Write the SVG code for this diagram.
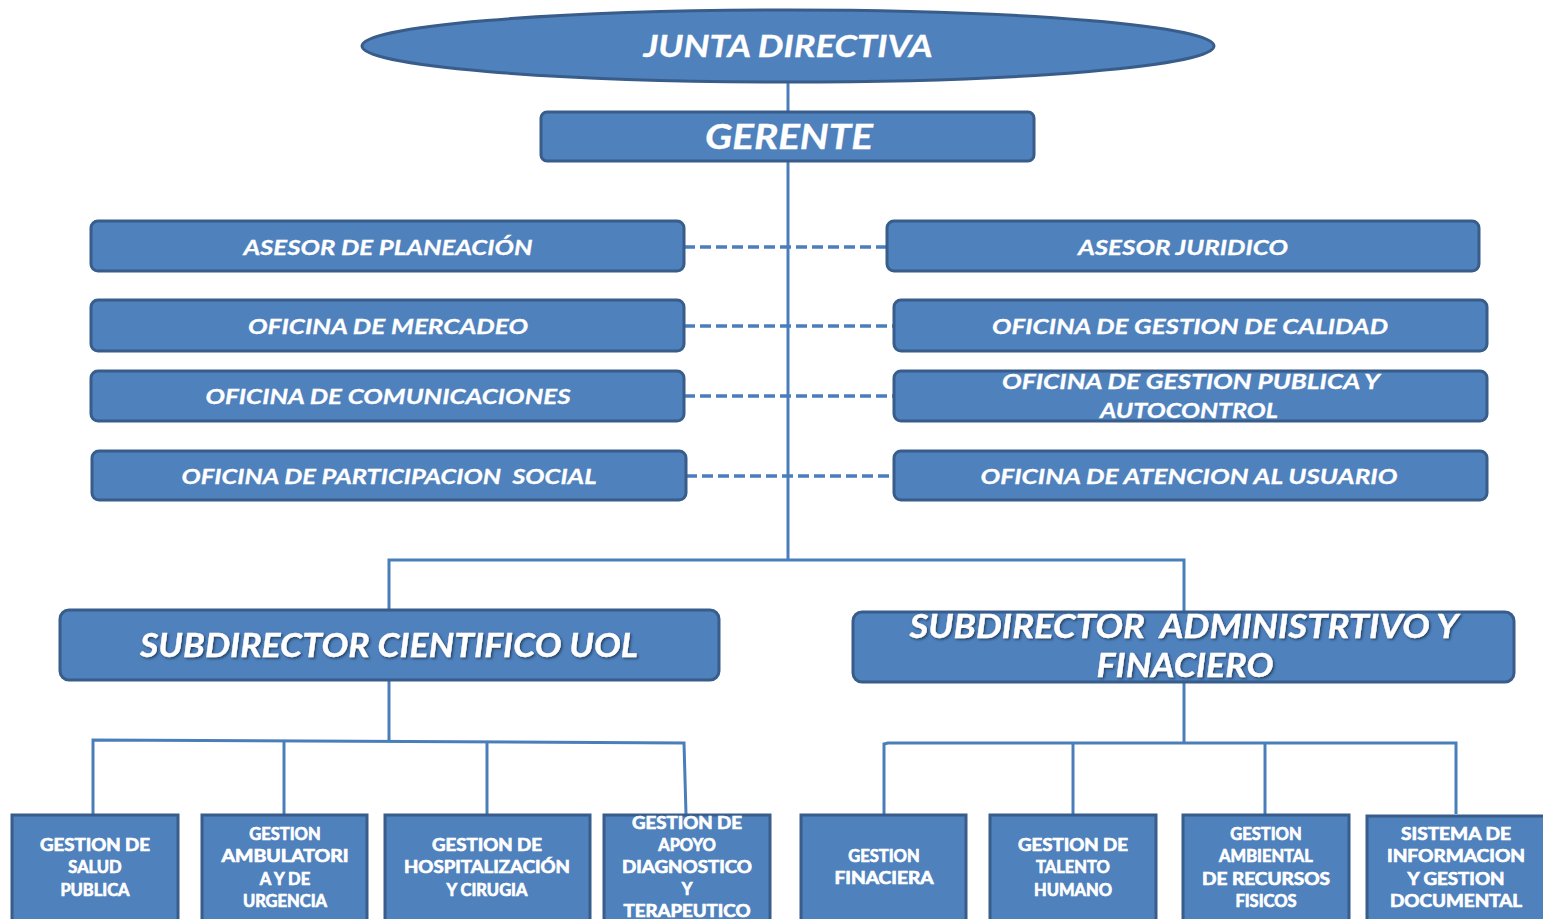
<svg xmlns="http://www.w3.org/2000/svg" width="1543" height="919" viewBox="0 0 1543 919">
<defs>
<style>
.box{fill:#4f81bd;stroke:#385d8a;stroke-width:3}
.ln{fill:none;stroke:#4a7ebb;stroke-width:3}
.dash{fill:none;stroke:#4a7ebb;stroke-width:3.5;stroke-dasharray:11 5}
.hi{font-family:Lato,"Open Sans",sans-serif;font-weight:bold;font-style:italic;fill:#fff;text-anchor:middle;white-space:pre;stroke:#fff;stroke-width:0.3}
.bt{font-family:Lato,"Open Sans",sans-serif;font-weight:bold;fill:#fff;text-anchor:middle;font-size:16.5px;stroke:#fff;stroke-width:0.7}
.sh{filter:url(#ts)}
</style>
<filter id="ts" x="-5%" y="-20%" width="110%" height="150%">
<feDropShadow dx="1.5" dy="1.5" stdDeviation="0.8" flood-color="#1f3550" flood-opacity="0.8"/>
</filter>
</defs>
<rect width="1543" height="919" fill="#fff"/>
<g id="connectors">
<line class="ln" x1="788" y1="82" x2="788" y2="112"/>
<line class="ln" x1="788" y1="161" x2="788" y2="560"/>
<line class="dash" x1="684" y1="247" x2="887" y2="247"/>
<line class="dash" x1="684" y1="326" x2="894" y2="326"/>
<line class="dash" x1="684" y1="396" x2="894" y2="396"/>
<line class="dash" x1="686" y1="476" x2="894" y2="476"/>
<polyline class="ln" points="389,610 389,560 1184,560 1184,612"/>
<line class="ln" x1="389" y1="680" x2="389" y2="741"/>
<polyline class="ln" points="93,814 93,740 684,743 686,814"/>
<line class="ln" x1="284" y1="741" x2="284" y2="814"/>
<line class="ln" x1="487" y1="742" x2="487" y2="814"/>
<line class="ln" x1="1184" y1="682" x2="1184" y2="743"/>
<polyline class="ln" points="884,814 884,744 888,743 1456,743 1456,814"/>
<line class="ln" x1="1073" y1="743" x2="1073" y2="814"/>
<line class="ln" x1="1265" y1="743" x2="1265" y2="814"/>
</g>
<g id="junta">
<ellipse class="box" cx="788" cy="46" rx="426" ry="36"/>
<text class="hi" x="788" y="57" font-size="30" textLength="289" lengthAdjust="spacingAndGlyphs">JUNTA DIRECTIVA</text>
</g>
<g id="gerente">
<rect class="box" x="541" y="112" width="493" height="49" rx="6"/>
<text class="hi" x="789" y="149" font-size="34" textLength="168" lengthAdjust="spacingAndGlyphs">GERENTE</text>
</g>
<g id="asesor-planeacion">
<rect class="box" x="91" y="221" width="593" height="50" rx="7"/>
<text class="hi" x="388" y="255" font-size="21" textLength="289" lengthAdjust="spacingAndGlyphs">ASESOR DE PLANEACIÓN</text>
</g>
<g id="oficina-mercadeo">
<rect class="box" x="91" y="300" width="593" height="51" rx="7"/>
<text class="hi" x="388" y="334" font-size="21" textLength="280" lengthAdjust="spacingAndGlyphs">OFICINA DE MERCADEO</text>
</g>
<g id="oficina-comunicaciones">
<rect class="box" x="91" y="371" width="593" height="50" rx="7"/>
<text class="hi" x="388" y="404" font-size="21" textLength="365" lengthAdjust="spacingAndGlyphs">OFICINA DE COMUNICACIONES</text>
</g>
<g id="oficina-participacion">
<rect class="box" x="92" y="451" width="594" height="49" rx="7"/>
<text class="hi" x="389" y="484" font-size="21" textLength="415" lengthAdjust="spacingAndGlyphs" xml:space="preserve">OFICINA DE PARTICIPACION  SOCIAL</text>
</g>
<g id="asesor-juridico">
<rect class="box" x="887" y="221" width="592" height="50" rx="7"/>
<text class="hi" x="1183" y="255" font-size="21" textLength="210" lengthAdjust="spacingAndGlyphs">ASESOR JURIDICO</text>
</g>
<g id="oficina-calidad">
<rect class="box" x="894" y="300" width="593" height="51" rx="7"/>
<text class="hi" x="1190" y="334" font-size="21" textLength="396" lengthAdjust="spacingAndGlyphs">OFICINA DE GESTION DE CALIDAD</text>
</g>
<g id="oficina-gestion-publica">
<rect class="box" x="894" y="371" width="593" height="50" rx="7"/>
<text class="hi" x="1191" y="389" font-size="21" textLength="378" lengthAdjust="spacingAndGlyphs">OFICINA DE GESTION PUBLICA Y</text>
<text class="hi" x="1189" y="418" font-size="21" textLength="178" lengthAdjust="spacingAndGlyphs">AUTOCONTROL</text>
</g>
<g id="oficina-atencion">
<rect class="box" x="894" y="451" width="593" height="49" rx="7"/>
<text class="hi" x="1189" y="484" font-size="21" textLength="417" lengthAdjust="spacingAndGlyphs">OFICINA DE ATENCION AL USUARIO</text>
</g>
<g id="subdirector-cientifico">
<rect class="box" x="60" y="610" width="659" height="70" rx="9"/>
<text class="hi sh" x="389" y="657" font-size="32" textLength="498" lengthAdjust="spacingAndGlyphs">SUBDIRECTOR CIENTIFICO UOL</text>
</g>
<g id="subdirector-administrativo">
<rect class="box" x="853" y="612" width="661" height="70" rx="9"/>
<text class="hi sh" x="1184" y="638" font-size="32" textLength="549" lengthAdjust="spacingAndGlyphs" xml:space="preserve">SUBDIRECTOR  ADMINISTRTIVO Y</text>
<text class="hi sh" x="1185" y="677" font-size="32" textLength="177" lengthAdjust="spacingAndGlyphs">FINACIERO</text>
</g>
<g id="gestion-salud">
<rect class="box" x="12" y="815" width="166" height="110"/>
<text class="bt" x="95" y="851" textLength="110" lengthAdjust="spacingAndGlyphs">GESTION DE</text>
<text class="bt" x="95" y="873">SALUD</text>
<text class="bt" x="95" y="896">PUBLICA</text>
</g>
<g id="gestion-ambulatoria">
<rect class="box" x="202" y="815" width="165" height="110"/>
<text class="bt" x="285" y="840">GESTION</text>
<text class="bt" x="285" y="862" textLength="127" lengthAdjust="spacingAndGlyphs">AMBULATORI</text>
<text class="bt" x="285" y="885">A Y DE</text>
<text class="bt" x="285" y="907">URGENCIA</text>
</g>
<g id="gestion-hospitalizacion">
<rect class="box" x="385" y="815" width="205" height="110"/>
<text class="bt" x="487" y="851" textLength="110" lengthAdjust="spacingAndGlyphs">GESTION DE</text>
<text class="bt" x="487" y="873" textLength="166" lengthAdjust="spacingAndGlyphs">HOSPITALIZACIÓN</text>
<text class="bt" x="487" y="896">Y CIRUGIA</text>
</g>
<g id="gestion-apoyo">
<rect class="box" x="604" y="815" width="166" height="110"/>
<text class="bt" x="687" y="829" textLength="110" lengthAdjust="spacingAndGlyphs">GESTION DE</text>
<text class="bt" x="687" y="851">APOYO</text>
<text class="bt" x="687" y="873" textLength="130" lengthAdjust="spacingAndGlyphs">DIAGNOSTICO</text>
<text class="bt" x="687" y="895">Y</text>
<text class="bt" x="687" y="917" textLength="127" lengthAdjust="spacingAndGlyphs">TERAPEUTICO</text>
</g>
<g id="gestion-financiera">
<rect class="box" x="801" y="815" width="165" height="110"/>
<text class="bt" x="884" y="862">GESTION</text>
<text class="bt" x="884" y="884" textLength="99" lengthAdjust="spacingAndGlyphs">FINACIERA</text>
</g>
<g id="gestion-talento">
<rect class="box" x="990" y="815" width="166" height="110"/>
<text class="bt" x="1073" y="851" textLength="110" lengthAdjust="spacingAndGlyphs">GESTION DE</text>
<text class="bt" x="1073" y="873">TALENTO</text>
<text class="bt" x="1073" y="896">HUMANO</text>
</g>
<g id="gestion-ambiental">
<rect class="box" x="1183" y="815" width="166" height="110"/>
<text class="bt" x="1266" y="840">GESTION</text>
<text class="bt" x="1266" y="862">AMBIENTAL</text>
<text class="bt" x="1266" y="885" textLength="128" lengthAdjust="spacingAndGlyphs">DE RECURSOS</text>
<text class="bt" x="1266" y="907">FISICOS</text>
</g>
<g id="sistema-informacion">
<rect class="box" x="1367" y="816" width="185" height="110"/>
<text class="bt" x="1456" y="840" textLength="110" lengthAdjust="spacingAndGlyphs">SISTEMA DE</text>
<text class="bt" x="1456" y="862" textLength="138" lengthAdjust="spacingAndGlyphs">INFORMACION</text>
<text class="bt" x="1456" y="885" textLength="97" lengthAdjust="spacingAndGlyphs">Y GESTION</text>
<text class="bt" x="1456" y="907" textLength="132" lengthAdjust="spacingAndGlyphs">DOCUMENTAL</text>
</g>
</svg>
